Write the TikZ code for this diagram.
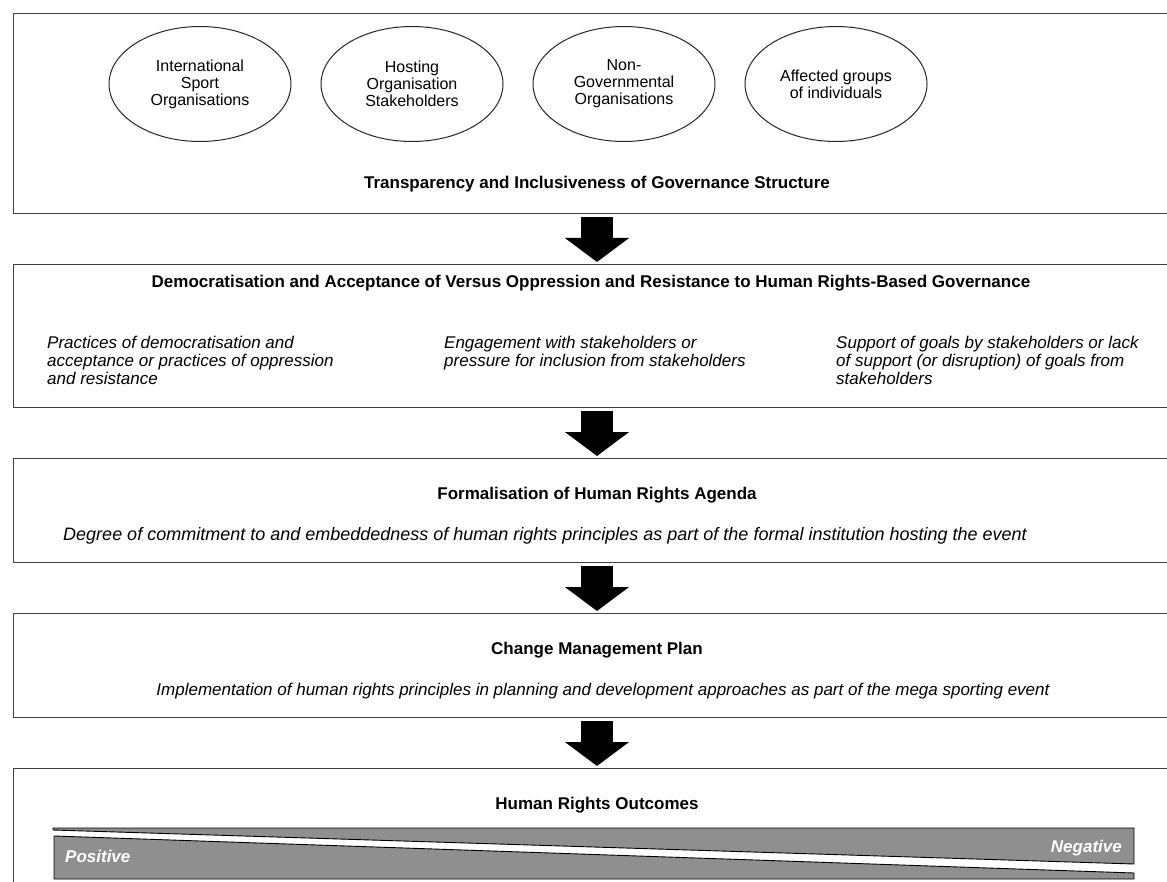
\documentclass[tikz,border=0pt]{standalone}
\usepackage{fontspec}
\setmainfont{Liberation Sans}
\usetikzlibrary{shapes.geometric,arrows.meta}
\tikzset{
  panel/.style={draw=black!75, line width=1.3pt, rectangle, anchor=north west,
    minimum width=1190pt, inner sep=0pt},
  actor/.style={draw=black!85, line width=1pt, ellipse, minimum width=182pt,
    minimum height=115pt, align=center, inner sep=0pt,
    font=\fontsize{16}{17}\selectfont},
  heading/.style={anchor=base, inner sep=0pt, font=\fontsize{17}{18}\selectfont\bfseries},
  detail/.style={inner sep=0pt, align=left, font=\fontsize{17}{18}\selectfont\itshape},
  flow/.style={line width=32pt, -{Triangle[width=63pt,length=24pt]},
    shorten <=3pt, shorten >=2pt},
  gauge/.style={fill=black!44, draw=black, line width=0.9pt},
  pole/.style={inner sep=0pt, text=white, font=\fontsize{17}{18}\selectfont\bfseries\itshape}
}
\begin{document}
\begin{tikzpicture}[x=1pt,y=-1pt]
  \useasboundingbox (0,0) rectangle (1167,882);
  \clip (0,0) rectangle (1167,882);
  \node[panel, minimum height=200pt] (b1) at (13,13) {};
  \node[panel, minimum height=143pt] (b2) at (13,264) {};
  \node[panel, minimum height=104pt] (b3) at (13,458) {};
  \node[panel, minimum height=104pt] (b4) at (13,613) {};
  \node[panel, minimum height=150pt] (b5) at (13,768) {};
  \coordinate (axis) at (597,0);

  \node[actor] (iso) at (200,84) {International\\Sport\\Organisations};
  \node[actor] (hos) at (412,84) {Hosting\\Organisation\\Stakeholders};
  \node[actor] (ngo) at (624,84) {Non-\\Governmental\\Organisations};
  \node[actor] (grp) at (836,84) {Affected groups\\of individuals};
  \node[heading] (t1) at (597,189) {Transparency and Inclusiveness of Governance Structure};

  \node[heading] (t2) at (591,288) {Democratisation and Acceptance of Versus Oppression and Resistance to Human Rights-Based Governance};
  \node[detail, anchor=north west] (c1) at (47,336) {Practices of democratisation and\\acceptance or practices of oppression\\and resistance};
  \node[detail, anchor=north west] (c2) at (444,336) {Engagement with stakeholders or\\pressure for inclusion from stakeholders};
  \node[detail, anchor=north west] (c3) at (836,336) {Support of goals by stakeholders or lack\\of support (or disruption) of goals from\\stakeholders};

  \node[heading] (t3) at (597,499) {Formalisation of Human Rights Agenda};
  \node[detail, anchor=base, font=\fontsize{18}{19}\selectfont\itshape] (d3) at (545,540) {Degree of commitment to and embeddedness of human rights principles as part of the formal institution hosting the event};

  \node[heading] (t4) at (597,654) {Change Management Plan};
  \node[detail, anchor=base] (d4) at (603,695) {Implementation of human rights principles in planning and development approaches as part of the mega sporting event};

  \node[heading] (t5) at (597,809) {Human Rights Outcomes};
  \draw[gauge] (53,828) -- (1134,828) -- (1134,864) -- (53,830) -- cycle;
  \draw[gauge] (54,836) -- (1134,873) -- (1134,879) -- (54,879) -- cycle;
  \node[pole, anchor=base west] (pos) at (65,862) {Positive};
  \node[pole, anchor=base east] (neg) at (1122,852) {Negative};

  \draw[flow] (b1.south -| axis) -- (b2.north -| axis);
  \draw[flow] (b2.south -| axis) -- (b3.north -| axis);
  \draw[flow] (b3.south -| axis) -- (b4.north -| axis);
  \draw[flow] (b4.south -| axis) -- (b5.north -| axis);
\end{tikzpicture}
\end{document}
